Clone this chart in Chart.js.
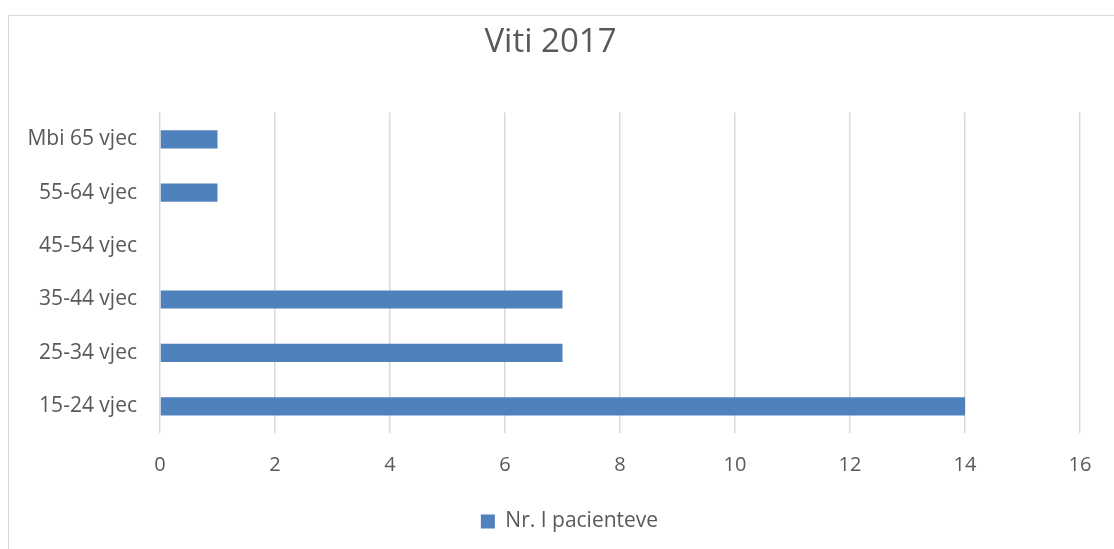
<!DOCTYPE html>
<html>
<head>
<meta charset="utf-8">
<script src="https://cdn.jsdelivr.net/npm/chart.js@4.4.0/dist/chart.umd.min.js"></script>
<style>
  html, body { margin: 0; padding: 0; background: #fff; overflow: hidden; }
  #frame { position: absolute; left: 8px; top: 15px; width: 1200px; height: 700px; border: 1px solid #d9d9d9; box-sizing: border-box; }
  #wrap { position: absolute; left: 0; top: 0; width: 1114px; height: 549px; }
</style>
</head>
<body>
<div id="frame"></div>
<div id="wrap"><canvas id="viti"></canvas></div>
<script>
// Viti 2017 - patients per age group
var categories = ['15-24 vjec', '25-34 vjec', '35-44 vjec', '45-54 vjec', '55-64 vjec', 'Mbi 65 vjec'];
var patients = [14, 7, 7, 0, 1, 1];
var seriesName = 'Nr. I pacienteve';
var xTicks = [0, 2, 4, 6, 8, 10, 12, 14, 16];

var textColor = '#595959';
var gridColor = '#d9d9d9';

// nudge the legend a bit to the right, like the original
var legendShift = {
    id: 'legendShift',
    afterLayout: function (chart) {
        if (chart.legend) {
            chart.legend.left += 19;
            chart.legend.right += 19;
        }
    }
};

var ctx = document.getElementById('viti').getContext('2d');
var myChart = new Chart(ctx, {
    type: 'bar',
    data: {
        labels: categories,
        datasets: [{
            label: seriesName,
            data: patients,
            backgroundColor: '#4f81bd',
            barPercentage: 0.34,
            categoryPercentage: 1
        }]
    },
    plugins: [legendShift],
    options: {
        indexAxis: 'y',
        responsive: true,
        maintainAspectRatio: false,
        animation: false,
        layout: { padding: { left: 21, right: 34, top: 0, bottom: 7 } },
        plugins: {
            title: {
                display: true,
                text: 'Viti 2017',
                color: textColor,
                font: { family: '"Open Sans"', size: 33, weight: 'normal' },
                padding: { top: 23, bottom: 50 }
            },
            legend: {
                position: 'bottom',
                labels: {
                    color: textColor,
                    boxWidth: 14,
                    boxHeight: 14,
                    padding: 10,
                    font: { family: '"Open Sans"', size: 21 }
                }
            },
            tooltip: { enabled: false }
        },
        scales: {
            x: {
                min: 0,
                max: 16,
                afterBuildTicks: function (scale) {
                    scale.ticks = xTicks.map(function (v) { return { value: v }; });
                },
                afterFit: function (scale) { scale.height = 68; },
                grid: { color: gridColor, lineWidth: 1.5, drawTicks: false },
                border: { display: false },
                ticks: { color: textColor, padding: 20, font: { family: '"Open Sans"', size: 20 } }
            },
            y: {
                reverse: true,
                afterFit: function (scale) { scale.width = 139; },
                grid: { display: false, drawTicks: false },
                border: { display: false },
                ticks: { color: textColor, padding: 23, font: { family: '"Open Sans"', size: 21 } }
            }
        }
    }
});
</script>
</body>
</html>
